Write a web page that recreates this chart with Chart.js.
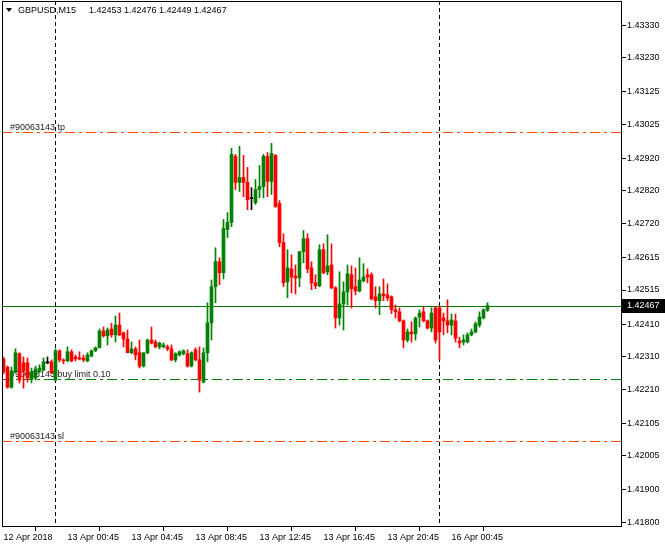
<!DOCTYPE html>
<html><head><meta charset="utf-8">
<script src="https://cdn.jsdelivr.net/npm/chart.js@4/dist/chart.umd.min.js"></script>
<style>html,body{margin:0;padding:0;background:#fff;}canvas{display:block;}</style>
</head><body>
<canvas id="c" width="665" height="549"></canvas>
<script>
// ---- data ----
const symbol = "GBPUSD,M15";
const opens = [1.42303,1.42278,1.42216,1.42263,1.42319,1.42291,1.42291,1.42241,1.42244,1.42266,
1.42269,1.42291,1.42294,1.42238,1.42328,1.42300,1.42297,1.42325,1.42309,1.42306,
1.42306,1.42297,1.42312,1.42328,1.42337,1.42389,1.42374,1.42395,1.42377,1.42407,
1.42383,1.42364,1.42322,1.42334,1.42322,1.42281,1.42322,1.42361,1.42355,1.42340,
1.42340,1.42340,1.42334,1.42300,1.42315,1.42319,1.42319,1.42281,1.42331,1.42300,
1.42232,1.42322,1.42414,1.42525,1.42602,1.42568,1.42701,1.42723,1.42926,1.42846,
1.42861,1.42846,1.42796,1.42784,1.42824,1.42833,1.42926,1.42849,1.42929,1.42781,
1.42661,1.42540,1.42580,1.42558,1.42552,1.42633,1.42673,1.42583,1.42537,1.42528,
1.42639,1.42571,1.42592,1.42522,1.42429,1.42472,1.42509,1.42562,1.42525,1.42512,
1.42543,1.42562,1.42562,1.42494,1.42482,1.42503,1.42500,1.42494,1.42454,1.42448,
1.42420,1.42361,1.42386,1.42380,1.42432,1.42448,1.42420,1.42398,1.42460,1.42460,
1.42429,1.42420,1.42407,1.42420,1.42358,1.42355,1.42355,1.42377,1.42386,1.42407,
1.42429,1.42453];
const highs = [1.42309,1.42281,1.42278,1.42334,1.42322,1.42309,1.42306,1.42275,1.42281,1.42285,
1.42306,1.42309,1.42300,1.42334,1.42331,1.42303,1.42340,1.42331,1.42315,1.42325,
1.42315,1.42322,1.42331,1.42340,1.42395,1.42401,1.42398,1.42413,1.42435,1.42444,
1.42386,1.42392,1.42355,1.42340,1.42361,1.42322,1.42364,1.42401,1.42361,1.42355,
1.42352,1.42346,1.42346,1.42322,1.42328,1.42331,1.42331,1.42325,1.42337,1.42340,
1.42337,1.42476,1.42546,1.42645,1.42614,1.42732,1.42753,1.42951,1.42932,1.42957,
1.42929,1.42892,1.42830,1.42855,1.42898,1.42932,1.42938,1.42966,1.42932,1.42790,
1.42688,1.42639,1.42623,1.42592,1.42633,1.42698,1.42688,1.42602,1.42562,1.42654,
1.42657,1.42685,1.42657,1.42525,1.42571,1.42540,1.42592,1.42589,1.42583,1.42614,
1.42596,1.42580,1.42568,1.42525,1.42525,1.42549,1.42534,1.42497,1.42469,1.42460,
1.42423,1.42395,1.42417,1.42432,1.42454,1.42463,1.42423,1.42460,1.42463,1.42466,
1.42444,1.42485,1.42441,1.42441,1.42370,1.42377,1.42383,1.42395,1.42417,1.42448,
1.42457,1.42476];
const lows = [1.42257,1.42213,1.42213,1.42260,1.42229,1.42213,1.42232,1.42229,1.42238,1.42260,
1.42266,1.42288,1.42257,1.42235,1.42294,1.42288,1.42294,1.42294,1.42297,1.42300,
1.42294,1.42294,1.42309,1.42325,1.42337,1.42370,1.42346,1.42370,1.42355,1.42374,
1.42340,1.42322,1.42319,1.42300,1.42275,1.42278,1.42319,1.42349,1.42337,1.42334,
1.42337,1.42328,1.42297,1.42294,1.42312,1.42315,1.42278,1.42278,1.42297,1.42201,
1.42229,1.42294,1.42361,1.42476,1.42531,1.42549,1.42676,1.42710,1.42824,1.42818,
1.42802,1.42762,1.42762,1.42778,1.42799,1.42799,1.42802,1.42809,1.42769,1.42648,
1.42525,1.42491,1.42506,1.42503,1.42525,1.42599,1.42568,1.42516,1.42519,1.42525,
1.42565,1.42562,1.42519,1.42398,1.42407,1.42392,1.42469,1.42460,1.42500,1.42509,
1.42540,1.42537,1.42485,1.42460,1.42439,1.42482,1.42482,1.42442,1.42429,1.42417,
1.42337,1.42355,1.42355,1.42361,1.42401,1.42417,1.42395,1.42386,1.42352,1.42300,
1.42377,1.42383,1.42377,1.42355,1.42337,1.42346,1.42352,1.42374,1.42383,1.42401,
1.42426,1.42449];
const closes = [1.42263,1.42216,1.42266,1.42322,1.42238,1.42266,1.42244,1.42263,1.42272,1.42275,
1.42294,1.42291,1.42260,1.42328,1.42300,1.42297,1.42325,1.42297,1.42303,1.42303,
1.42300,1.42315,1.42328,1.42337,1.42389,1.42374,1.42392,1.42377,1.42407,1.42377,
1.42364,1.42322,1.42334,1.42315,1.42281,1.42322,1.42361,1.42352,1.42340,1.42352,
1.42346,1.42334,1.42300,1.42319,1.42325,1.42328,1.42281,1.42322,1.42300,1.42238,
1.42322,1.42414,1.42525,1.42602,1.42568,1.42704,1.42723,1.42932,1.42846,1.42861,
1.42846,1.42793,1.42796,1.42824,1.42833,1.42926,1.42849,1.42935,1.42772,1.42661,
1.42537,1.42583,1.42555,1.42552,1.42633,1.42673,1.42580,1.42537,1.42528,1.42639,
1.42568,1.42589,1.42522,1.42429,1.42472,1.42509,1.42565,1.42519,1.42512,1.42546,
1.42555,1.42555,1.42488,1.42482,1.42503,1.42497,1.42491,1.42454,1.42448,1.42420,
1.42361,1.42386,1.42380,1.42429,1.42444,1.42420,1.42398,1.42444,1.42361,1.42386,
1.42420,1.42407,1.42423,1.42367,1.42352,1.42361,1.42377,1.42386,1.42411,1.42432,
1.42454,1.42467];
const xTickIndex  = [0, 16, 32, 48, 64, 80, 96, 112];
const xTickLabels = ["12 Apr 2018","13 Apr 00:45","13 Apr 04:45","13 Apr 08:45","13 Apr 12:45","13 Apr 16:45","13 Apr 20:45","16 Apr 00:45"];
const yTickValues = [1.43330,1.43230,1.43125,1.43025,1.42920,1.42820,1.42720,1.42615,1.42515,1.42410,1.42310,1.42210,1.42105,1.42005,1.41900,1.41800];
const separatorIndex = [13, 109];
const orderTicket = "90063143";
const orderNames  = ["tp", "buy limit 0.10", "sl"];
const orderPrices = [1.43000, 1.42240, 1.42050];

// ---- styles ----
const BULL = '#008000', BEAR = '#ff0000', DOJI = '#000000';
const orderColors = ['#ff4500', '#008000', '#ff4500'];
const FONT = '"Liberation Sans", Arial, sans-serif';
const candleColor = opens.map((o,i)=> closes[i] > o ? BULL : (closes[i] < o ? BEAR : DOJI));

const overlay = {
  id: 'overlay',
  beforeDatasetsDraw(chart){
    const {ctx, chartArea:a, scales:{x, y}} = chart;
    ctx.save();
    ctx.beginPath(); ctx.rect(a.left, a.top, a.right-a.left, a.bottom-a.top); ctx.clip();
    ctx.lineWidth = 1;
    // period separators
    ctx.strokeStyle = '#000'; ctx.setLineDash([4,3]);
    separatorIndex.forEach(i=>{
      const px = Math.floor(x.getPixelForValue(i)) + 0.5;
      ctx.beginPath(); ctx.moveTo(px, a.top); ctx.lineTo(px, a.bottom); ctx.stroke();
    });
    // order levels
    ctx.font = '9px ' + FONT; ctx.textBaseline = 'alphabetic'; ctx.textAlign = 'left';
    orderPrices.forEach((p,k)=>{
      const py = Math.round(y.getPixelForValue(p)) + 0.5;
      ctx.strokeStyle = orderColors[k]; ctx.setLineDash([10,4,3,4]);
      ctx.beginPath(); ctx.moveTo(a.left, py); ctx.lineTo(a.right, py); ctx.stroke();
      ctx.fillStyle = '#1a1a1a';
      ctx.fillText('#' + orderTicket + ' ' + orderNames[k], a.left + 8, py - 3);
    });
    // bid line
    const bid = closes[closes.length-1];
    const by = Math.round(y.getPixelForValue(bid)) + 0.5;
    ctx.setLineDash([]); ctx.strokeStyle = BULL;
    ctx.beginPath(); ctx.moveTo(a.left, by); ctx.lineTo(a.right, by); ctx.stroke();
    ctx.restore();
  },
  afterDraw(chart){
    const {ctx, chartArea:a, scales:{y}} = chart;
    ctx.save();
    // frame
    ctx.strokeStyle = '#000'; ctx.lineWidth = 1;
    ctx.strokeRect(a.left + 0.5, a.top + 0.5, a.right - a.left - 1, a.bottom - a.top - 1);
    // header
    const n = closes.length - 1;
    ctx.fillStyle = '#000';
    ctx.beginPath(); ctx.moveTo(a.left + 4, 8); ctx.lineTo(a.left + 10, 8); ctx.lineTo(a.left + 7, 12); ctx.closePath(); ctx.fill();
    ctx.font = '9px ' + FONT; ctx.textBaseline = 'middle'; ctx.textAlign = 'left';
    ctx.fillText(symbol, a.left + 16, 11);
    ctx.fillText([opens[n], highs[n], lows[n], closes[n]].map(v=>v.toFixed(5)).join(' '), a.left + 87, 11);
    // current price box
    const by = Math.round(y.getPixelForValue(closes[n]));
    ctx.fillStyle = '#000';
    ctx.fillRect(a.right, by - 7, chart.width - a.right, 14);
    ctx.fillStyle = '#fff';
    ctx.fillText(closes[n].toFixed(5), a.right + 5, by);
    ctx.restore();
  }
};

new Chart(document.getElementById('c'), {
  type: 'bar',
  data: {
    datasets: [
      { label: 'wick', data: lows.map((l,i)=>({x:i, y:[l, highs[i]]})),
        backgroundColor: candleColor, barThickness: 1, grouped: false, borderWidth: 0, order: 2 },
      { label: 'body', data: opens.map((o,i)=>({x:i, y:[o, closes[i]]})),
        backgroundColor: candleColor, barThickness: 3, grouped: false, borderWidth: 0, minBarLength: 1, order: 1 }
    ]
  },
  options: {
    responsive: false, animation: false, devicePixelRatio: 1,
    layout: { padding: { left: 2, top: 1, right: 0, bottom: 0 }, autoPadding: false },
    plugins: { legend: { display: false }, tooltip: { enabled: false } },
    scales: {
      x: {
        type: 'linear', position: 'bottom', min: -0.375, max: 154.625, offset: false,
        afterBuildTicks: s => { s.ticks = xTickIndex.map(v=>({value:v})); },
        afterFit: s => { s.height = 22; s.paddingLeft = 0; s.paddingRight = 0; },
        ticks: { autoSkip: false, maxRotation: 0, minRotation: 0, align: 'start', padding: 1,
                 color: '#000', font: { family: FONT, size: 9 },
                 callback: v => xTickLabels[xTickIndex.indexOf(v)] },
        grid: { drawOnChartArea: false, drawTicks: true, tickLength: 4, color: '#000' },
        border: { display: false }
      },
      y: {
        type: 'linear', position: 'right', min: 1.41786, max: 1.43404,
        afterBuildTicks: s => { s.ticks = yTickValues.map(v=>({value:v})); },
        afterFit: s => { s.width = 43; s.paddingTop = 0; s.paddingBottom = 0; },
        ticks: { autoSkip: false, padding: 1, color: '#000', font: { family: FONT, size: 9 },
                 callback: v => v.toFixed(5) },
        grid: { drawOnChartArea: false, drawTicks: true, tickLength: 4, color: '#000' },
        border: { display: false }
      }
    }
  },
  plugins: [overlay]
});
</script>
</body></html>
